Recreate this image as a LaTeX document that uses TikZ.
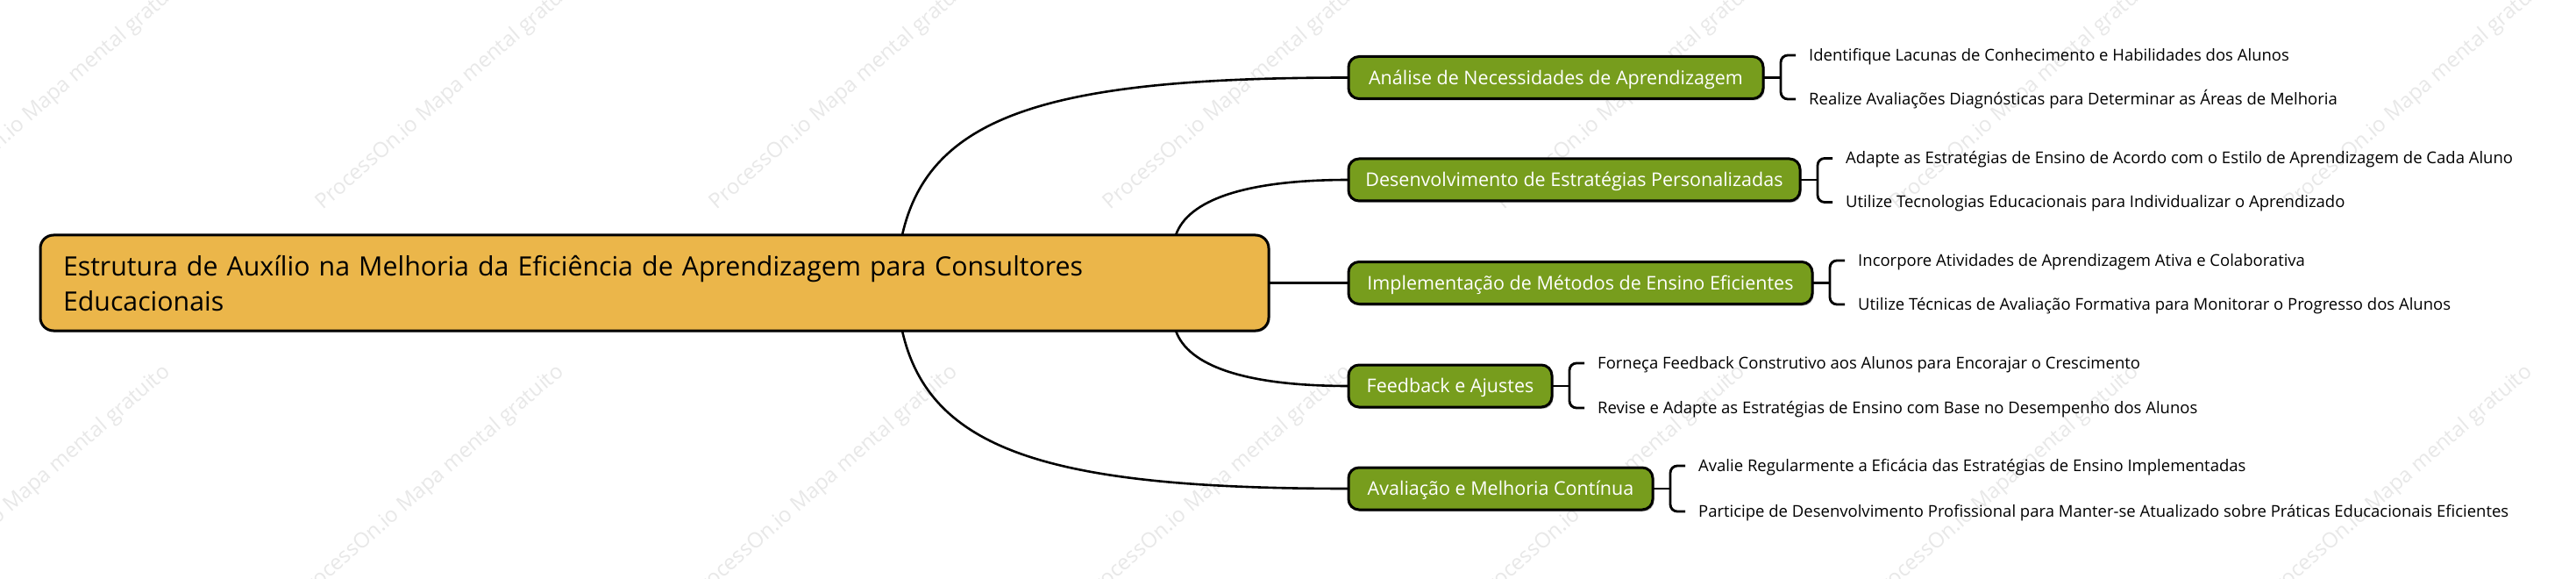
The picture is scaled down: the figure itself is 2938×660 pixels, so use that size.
\documentclass[tikz,border=0pt]{standalone}
\usepackage{fontspec}
\setmainfont{Open Sans}
\usetikzlibrary{shadows,calc}
\definecolor{rootfill}{HTML}{EBB64A}
\definecolor{lonefill}{HTML}{779D1D}
\definecolor{wmcolor}{HTML}{E8E8E8}
\begin{document}
\begin{tikzpicture}[x=1pt,y=-1pt,
  rootbox/.style={draw=black, line width=3pt, fill=rootfill, rounded corners=15pt,
    anchor=north west, minimum width=1401pt, minimum height=109pt, text width=1349pt,
    inner xsep=26pt, inner ysep=0pt, align=left, outer sep=0pt,
    font=\fontsize{30.3}{40}\selectfont,
    drop shadow={shadow xshift=1.5pt, shadow yshift=-1.5pt, fill=black, opacity=0.2}},
  lonebox/.style={draw=black, line width=3pt, fill=lonefill, rounded corners=12pt,
    anchor=west, minimum height=48pt, inner xsep=0pt, inner ysep=0pt, text=white,
    font=\fontsize{21.5}{26}\selectfont, text height=19pt, text depth=3.6pt, outer sep=0pt,
    drop shadow={shadow xshift=1.5pt, shadow yshift=-2pt, fill=black, opacity=0.3}},
  leaf/.style={anchor=west, inner sep=0pt, font=\fontsize{18.5}{22}\selectfont,
    text height=17pt, text depth=4pt},
  link/.style={draw=black, line width=2.6pt},
  brace/.style={draw=black, line width=2.8pt, rounded corners=8pt},
  wmark/.style={text=wmcolor, rotate=41, anchor=base west, inner sep=0pt,
    font=\fontsize{24}{28}\selectfont}
]
\useasboundingbox (0,0) rectangle (2938,660);
\fill[white] (0,0) rectangle (2938,660);

% watermarks
\begin{scope}
\clip (0,0) rectangle (2938,660);
\foreach \wx in {-81,368,817,1266,1715,2164,2613}{
  \node[wmark] at (\wx,240) {ProcessOn.io Mapa mental gratuito};
  \node[wmark] at (\wx-22,685) {ProcessOn.io Mapa mental gratuito};
}
\end{scope}

% root
\node[rootbox] (root) at (46,268)
  {\rule{0pt}{31pt}Estrutura de Auxílio na Melhoria da Eficiência de Aprendizagem para Consultores\\
   Educacionais\rule[-8pt]{0pt}{8pt}};

% level 1
\node[lonebox, minimum width=473pt] (b1) at (1538,88.5) {Análise de Necessidades de Aprendizagem};
\node[lonebox, minimum width=515pt] (b2) at (1538,205) {Desenvolvimento de Estratégias Personalizadas};
\node[lonebox, minimum width=529pt] (b3) at (1538,322.5) {Implementação de Métodos de Ensino Eficientes};
\node[lonebox, minimum width=232pt] (b4) at (1538,440) {Feedback e Ajustes};
\node[lonebox, minimum width=347pt] (b5) at (1538,557) {Avaliação e Melhoria Contínua};

% leaves
\node[leaf] (l1a) at (2063,63) {Identifique Lacunas de Conhecimento e Habilidades dos Alunos};
\node[leaf] (l1b) at (2063,113) {Realize Avaliações Diagnósticas para Determinar as Áreas de Melhoria};
\node[leaf] (l2a) at (2105,180.5) {Adapte as Estratégias de Ensino de Acordo com o Estilo de Aprendizagem de Cada Aluno};
\node[leaf] (l2b) at (2105,230.5) {Utilize Tecnologias Educacionais para Individualizar o Aprendizado};
\node[leaf] (l3a) at (2119,297) {Incorpore Atividades de Aprendizagem Ativa e Colaborativa};
\node[leaf] (l3b) at (2119,347) {Utilize Técnicas de Avaliação Formativa para Monitorar o Progresso dos Alunos};
\node[leaf] (l4a) at (1822,414) {Forneça Feedback Construtivo aos Alunos para Encorajar o Crescimento};
\node[leaf] (l4b) at (1822,465) {Revise e Adapte as Estratégias de Ensino com Base no Desempenho dos Alunos};
\node[leaf] (l5a) at (1937,531) {Avalie Regularmente a Eficácia das Estratégias de Ensino Implementadas};
\node[leaf] (l5b) at (1937,583) {Participe de Desenvolvimento Profissional para Manter-se Atualizado sobre Práticas Educacionais Eficientes};

% curve start points on the root
\coordinate (r1) at ($(root.north west)+(983,0)$);
\coordinate (r2) at ($(root.north west)+(1295,0)$);
\coordinate (r4) at ($(root.south west)+(1295,0)$);
\coordinate (r5) at ($(root.south west)+(983,0)$);

\draw[link] (r1) .. controls ($(r1)+(31,-138)$) and ($(b1.west)+(-338,0)$) .. (b1.west);
\draw[link] (r2) .. controls ($(r2)+(14,-40)$) and ($(b2.west)+(-118,0)$) .. (b2.west);
\draw[link] (root.east) -- (b3.west);
\draw[link] (r4) .. controls ($(r4)+(14,40)$) and ($(b4.west)+(-118,0)$) .. (b4.west);
\draw[link] (r5) .. controls ($(r5)+(31,138)$) and ($(b5.west)+(-338,0)$) .. (b5.west);

% brackets
\foreach \p/\a/\b in {b1/l1a/l1b, b2/l2a/l2b, b3/l3a/l3b, b4/l4a/l4b, b5/l5a/l5b}{
  \draw[link] (\p.east) -- ++(20,0);
  \draw[brace] ([xshift=-15pt]\a.west) -- ([xshift=-32pt]\a.west)
     -- ([xshift=-32pt]\b.west) -- ([xshift=-15pt]\b.west);
}
\end{tikzpicture}
\end{document}
